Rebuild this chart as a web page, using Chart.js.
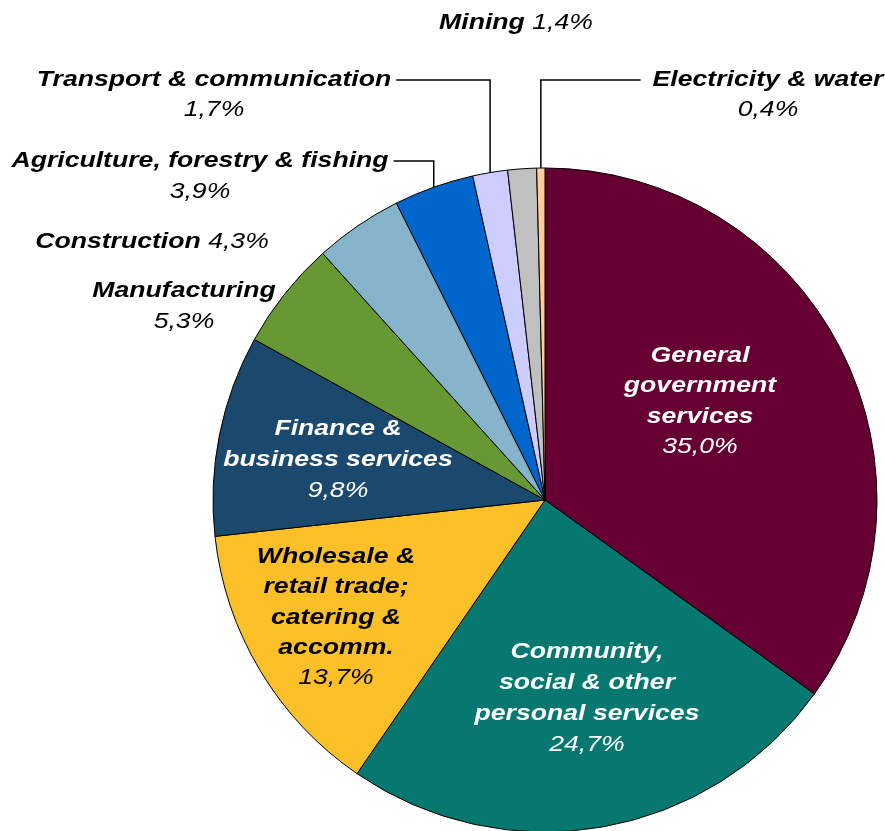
<!DOCTYPE html>
<html>
<head>
<meta charset="utf-8">
<script src="https://cdn.jsdelivr.net/npm/chart.js@4.4.0/dist/chart.umd.min.js"></script>
<style>
  html, body { margin: 0; padding: 0; background: #fff; overflow: hidden; }
</style>
</head>
<body>
<canvas id="Chart" width="885" height="831"></canvas>
<script>
// sector shares, clockwise from 12 o'clock
const sectors = [
  "General government services",
  "Community, social & other personal services",
  "Wholesale & retail trade; catering & accomm.",
  "Finance & business services",
  "Manufacturing",
  "Construction",
  "Agriculture, forestry & fishing",
  "Transport & communication",
  "Mining",
  "Electricity & water",
];
const shares = [35.0, 24.7, 13.7, 9.8, 5.3, 4.3, 3.9, 1.7, 1.4, 0.4];
const shareText = ["35,0%", "24,7%", "13,7%", "9,8%", "5,3%", "4,3%", "3,9%", "1,7%", "1,4%", "0,4%"];
const labelLines = [
  ["General", "government", "services"],
  ["Community,", "social & other", "personal services"],
  ["Wholesale &", "retail trade;", "catering &", "accomm."],
  ["Finance &", "business services"],
  ["Manufacturing"],
  ["Construction"],
  ["Agriculture, forestry & fishing"],
  ["Transport & communication"],
  ["Mining"],
  ["Electricity & water"],
];
const sliceColors = [
  "#660033", "#077870", "#fbbf27", "#1b496e", "#669933",
  "#85b4ca", "#0066cc", "#ccccff", "#c0c0c0", "#ffcc99",
];

// where each label sits (x = text centre, y = first line centre)
const labelPlace = [
  { x: 700, y: 356, lh: 30.3, color: "#fff" },
  { x: 587, y: 652, lh: 31, color: "#fff" },
  { x: 336, y: 557, lh: 30.3, color: "#000" },
  { x: 338, y: 429, lh: 31, color: "#fff" },
  { x: 184, y: 291, lh: 31, color: "#000" },
  { x: 152, y: 242, inline: true, color: "#000" },
  { x: 200, y: 161, lh: 31, color: "#000", leader: "right" },
  { x: 214, y: 80, lh: 30, color: "#000", leader: "right" },
  { x: 516, y: 23, inline: true, color: "#000" },
  { x: 768, y: 80, lh: 30, color: "#000", leader: "left" },
];

const SX = 1.21; // text in the original is drawn a bit wide
const boldFont = "italic bold 22px 'Liberation Sans', Arial, sans-serif";
const normFont = "italic 22px 'Liberation Sans', Arial, sans-serif";

const textW = (ctx, t, font) => {
  ctx.font = font;
  return ctx.measureText(t).width * SX;
};
const drawSeg = (ctx, t, font, x, y, color) => {
  ctx.save();
  ctx.font = font;
  ctx.fillStyle = color;
  ctx.textAlign = "left";
  ctx.textBaseline = "middle";
  ctx.translate(x, y);
  ctx.scale(SX, 1);
  ctx.fillText(t, 0, 0);
  ctx.restore();
};
const drawCentered = (ctx, t, font, cx, y, color) => {
  const w = textW(ctx, t, font);
  drawSeg(ctx, t, font, cx - w / 2, y, color);
  return w;
};

const labelPlugin = {
  id: "sliceLabels",
  afterDatasetsDraw(chart) {
    const ctx = chart.ctx;
    const arcs = chart.getDatasetMeta(0).data;
    labelPlace.forEach((p, i) => {
      if (p.inline) {
        const name = labelLines[i][0];
        const w1 = textW(ctx, name, boldFont);
        const w2 = textW(ctx, " " + shareText[i], normFont);
        const left = p.x - (w1 + w2) / 2;
        drawSeg(ctx, name, boldFont, left, p.y, p.color);
        drawSeg(ctx, " " + shareText[i], normFont, left + w1, p.y, p.color);
        return;
      }
      let firstW = 0;
      labelLines[i].forEach((line, k) => {
        const w = drawCentered(ctx, line, boldFont, p.x, p.y + k * p.lh, p.color);
        if (k === 0) firstW = w;
      });
      drawCentered(ctx, shareText[i], normFont, p.x, p.y + labelLines[i].length * p.lh, p.color);

      if (p.leader) {
        const arc = arcs[i];
        const mid = (arc.startAngle + arc.endAngle) / 2;
        const ex = arc.x + Math.cos(mid) * arc.outerRadius;
        const ey = arc.y + Math.sin(mid) * arc.outerRadius;
        const sx = p.leader === "right" ? p.x + firstW / 2 + 5 : p.x - firstW / 2 - 12;
        ctx.save();
        ctx.strokeStyle = "#000";
        ctx.lineWidth = 1.5;
        ctx.beginPath();
        ctx.moveTo(sx, p.y);
        ctx.lineTo(ex, p.y);
        ctx.lineTo(ex, ey);
        ctx.stroke();
        ctx.restore();
      }
    });
  },
};

const ctx = document.getElementById("Chart").getContext("2d");
new Chart(ctx, {
  type: "pie",
  data: {
    labels: sectors,
    datasets: [
      {
        data: shares,
        backgroundColor: sliceColors,
        borderColor: "#000",
        borderWidth: 1,
        hoverOffset: 0,
      },
    ],
  },
  options: {
    responsive: false,
    animation: false,
    events: [],
    radius: 332,
    layout: { padding: { left: 205, right: 0, top: 169, bottom: 0 } },
    plugins: {
      legend: { display: false },
      tooltip: { enabled: false },
    },
  },
  plugins: [labelPlugin],
});
</script>
</body>
</html>
